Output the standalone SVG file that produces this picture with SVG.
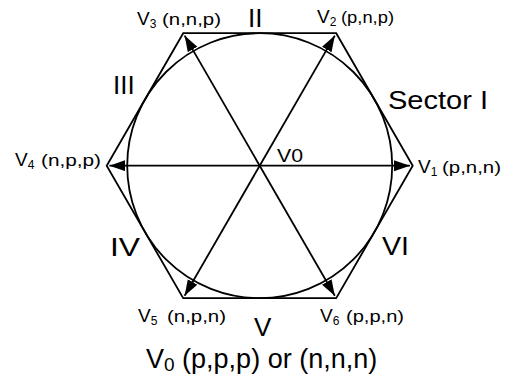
<svg xmlns="http://www.w3.org/2000/svg" width="517" height="382" viewBox="0 0 517 382">
<defs>
<style>
.s{fill:none;stroke:#000;stroke-width:1.8}
.t{font-family:"Liberation Sans",Arial,sans-serif;fill:#000}
.v{font-size:19px}
.sub{font-size:12px}
.p{font-size:16px}
.b{font-size:26px}
</style>
<marker id="ah" markerUnits="userSpaceOnUse" markerWidth="17" markerHeight="12" refX="16" refY="5.5" orient="auto">
<path d="M0,0 L16,5.5 L0,11 Z" fill="#000"/>
</marker>
</defs>
<rect width="517" height="382" fill="#fff"/>
<g id="hexagon">
<polygon class="s" points="412.7,165.7 336.2,33.2 183.2,33.2 106.7,165.7 183.2,298.2 336.2,298.2"/>
</g>
<g id="circle">
<circle class="s" cx="259.7" cy="165.7" r="132.5"/>
</g>
<g id="connectors" class="s" marker-end="url(#ah)">
<line x1="259.7" y1="165.7" x2="410" y2="165.7"/>
<line x1="259.7" y1="165.7" x2="334.8" y2="35.6"/>
<line x1="259.7" y1="165.7" x2="184.6" y2="35.6"/>
<line x1="259.7" y1="165.7" x2="109.4" y2="165.7"/>
<line x1="259.7" y1="165.7" x2="184.6" y2="295.8"/>
<line x1="259.7" y1="165.7" x2="334.8" y2="295.8"/>
</g>
<g id="labels" class="t">
<g id="v0c"><text class="v" x="277" y="162" textLength="26" lengthAdjust="spacingAndGlyphs">V0</text></g>
<g id="v1"><text x="418" y="173"><tspan class="v">V</tspan><tspan class="sub" dy="3">1</tspan><tspan class="p" dy="-3" x="442" textLength="59" lengthAdjust="spacingAndGlyphs">(p,n,n)</tspan></text></g>
<g id="v2"><text x="317" y="23"><tspan class="v">V</tspan><tspan class="sub" dy="3">2</tspan><tspan class="p" dy="-3" x="341" textLength="53" lengthAdjust="spacingAndGlyphs">(p,n,p)</tspan></text></g>
<g id="v3"><text x="137" y="25"><tspan class="v">V</tspan><tspan class="sub" dy="3">3</tspan><tspan class="p" dy="-3" x="162" textLength="59" lengthAdjust="spacingAndGlyphs">(n,n,p)</tspan></text></g>
<g id="v4"><text x="15" y="166"><tspan class="v">V</tspan><tspan class="sub" dy="3">4</tspan><tspan class="p" dy="-3" x="41" textLength="60" lengthAdjust="spacingAndGlyphs">(n,p,p)</tspan></text></g>
<g id="v5"><text x="138" y="322"><tspan class="v">V</tspan><tspan class="sub" dy="3">5</tspan><tspan class="p" dy="-3" x="167" textLength="59" lengthAdjust="spacingAndGlyphs">(n,p,n)</tspan></text></g>
<g id="v6"><text x="320" y="322"><tspan class="v">V</tspan><tspan class="sub" dy="3">6</tspan><tspan class="p" dy="-3" x="346" textLength="58" lengthAdjust="spacingAndGlyphs">(p,p,n)</tspan></text></g>
<g id="sI"><text class="t" x="388" y="109" font-size="25" textLength="100" lengthAdjust="spacingAndGlyphs">Sector I</text></g>
<g id="sII"><text class="b" x="248" y="27">II</text></g>
<g id="sIII"><text class="b" x="113" y="94">III</text></g>
<g id="sIV"><text class="b" x="110" y="256" textLength="30" lengthAdjust="spacingAndGlyphs">IV</text></g>
<g id="sV"><text class="b" x="254" y="336">V</text></g>
<g id="sVI"><text class="b" x="382" y="255" textLength="27" lengthAdjust="spacingAndGlyphs">VI</text></g>
<g id="bottom"><text x="146" y="368" font-size="27"><tspan>V</tspan><tspan font-size="19" dy="3">0</tspan><tspan dy="-3"> (p,p,p) or (n,n,n)</tspan></text></g>
</g>
</svg>
